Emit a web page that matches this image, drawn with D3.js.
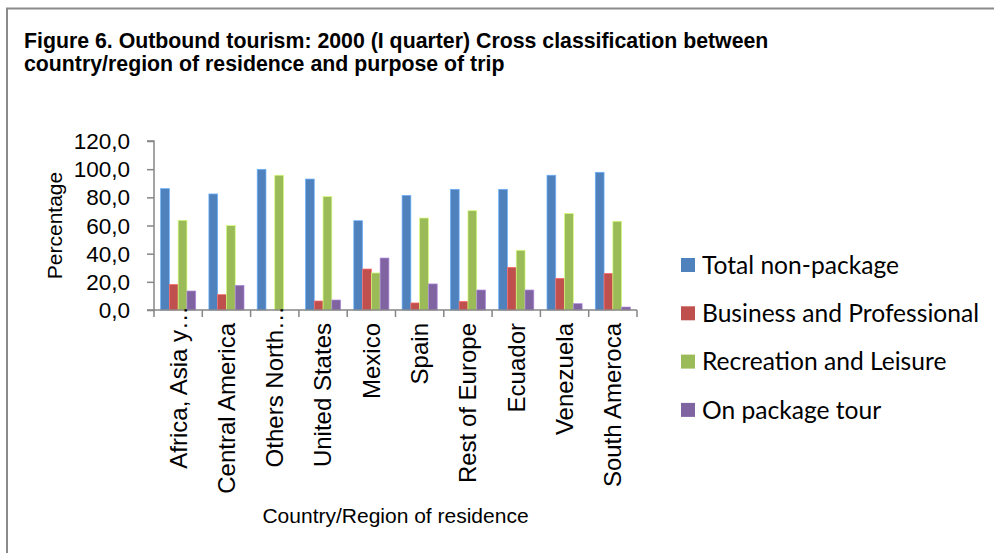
<!DOCTYPE html>
<html lang="en">
<head>
    <meta charset="UTF-8">
    <script src="https://d3js.org/d3.v7.min.js"></script>
    <title>index</title>
    <style>
        body { margin: 0; background: #fff; }
        svg { display: block; }
        .title { font-family: "Liberation Sans", Arial, sans-serif; font-weight: bold; font-size: 21.3px; }
        .axis text { font-family: "Liberation Sans", Arial, sans-serif; fill: #000; }
        .legend text { font-family: Lato, "Open Sans", sans-serif; font-size: 24.6px; }
    </style>
</head>
<body>
    <div id="chart"></div>

    <script>
        // categories and series
        var categories = ['Africa, Asia y\u2026', 'Central America', 'Others North\u2026', 'United States', 'Mexico',
                          'Spain', 'Rest of Europe', 'Ecuador', 'Venezuela', 'South Ameroca'];
        var seriesNames = ['Total non-package', 'Business and Professional', 'Recreation and Leisure', 'On package tour'];
        var totalNonPackage = [86.2, 82.4, 99.9, 93.0, 63.4, 81.4, 85.7, 85.7, 95.7, 97.8];
        var businessProfessional = [18.2, 10.9, 0, 6.4, 29.1, 5.0, 6.1, 30.3, 22.5, 26.0];
        var recreationLeisure = [63.7, 59.9, 95.7, 80.5, 26.3, 65.3, 70.5, 42.4, 68.6, 63.0];
        var onPackageTour = [13.5, 17.5, 0, 7.1, 36.9, 18.5, 14.2, 14.2, 4.5, 2.1];
        var yTicks = [0, 20, 40, 60, 80, 100, 120];

        var colors = ['#4F81BD', '#C0504D', '#9BBB59', '#8064A2'];
        var seriesValues = [totalNonPackage, businessProfessional, recreationLeisure, onPackageTour];

        var width = 994, height = 553;
        var plotLeft = 154, plotRight = 637, plotTop = 141, plotBottom = 310;

        var svg = d3.select('#chart').append('svg')
            .attr('width', width)
            .attr('height', height);

        // chart border
        svg.append('rect')
            .attr('x', 7).attr('y', 8.5)
            .attr('width', 1000).attr('height', 600)
            .attr('fill', 'none')
            .attr('stroke', '#8a8a8a')
            .attr('stroke-width', 2);

        svg.append('text').attr('class', 'title')
            .attr('x', 24).attr('y', 48)
            .text('Figure 6. Outbound tourism: 2000 (I quarter) Cross classification between');
        svg.append('text').attr('class', 'title')
            .attr('x', 24).attr('y', 71)
            .text('country/region of residence and purpose of trip');

        var x0 = d3.scaleBand().domain(categories).range([plotLeft, plotRight]).padding(0);
        var x1 = d3.scaleBand().domain(seriesNames).range([0, x0.bandwidth()])
            .paddingInner(0).paddingOuter(0.75);
        var y = d3.scaleLinear().domain([0, 120]).range([plotBottom, plotTop]);

        // bars
        var groups = svg.selectAll('.cat')
            .data(categories)
            .enter().append('g')
                .attr('class', 'cat')
                .attr('transform', function(d) { return 'translate(' + x0(d) + ',0)'; });

        groups.selectAll('rect')
            .data(function(d, i) {
                return seriesNames.map(function(s, j) { return {s: s, j: j, v: seriesValues[j][i]}; });
            })
            .enter().append('rect')
                .attr('x', function(d) { return x1(d.s); })
                .attr('y', function(d) { return y(d.v); })
                .attr('width', x1.bandwidth())
                .attr('height', function(d) { return plotBottom - y(d.v); })
                .attr('fill', function(d) { return colors[d.j]; })
                .attr('stroke', function(d) { return d.v > 0 ? d3.color(colors[d.j]).brighter(0.9) : 'none'; })
                .attr('stroke-width', 0.7);

        // y axis
        var yAxis = svg.append('g').attr('class', 'axis')
            .attr('transform', 'translate(' + plotLeft + ',0)')
            .call(d3.axisLeft(y).tickValues(yTicks).tickSize(7).tickPadding(17)
                .tickFormat(function(d) { return d3.format('.1f')(d).replace('.', ','); }));
        yAxis.selectAll('text').attr('font-size', 22.5).attr('dy', '0.34em');
        yAxis.select('.domain').attr('stroke', '#868686').attr('stroke-width', 1.5)
            .attr('d', 'M-7,' + plotTop + 'H0V' + plotBottom + 'H-7');
        yAxis.selectAll('.tick line').attr('stroke', '#868686').attr('stroke-width', 1.5);

        // x axis, ticks between categories
        var xAxis = svg.append('g').attr('class', 'axis')
            .attr('transform', 'translate(0,' + plotBottom + ')');
        xAxis.append('line')
            .attr('x1', plotLeft).attr('x2', plotRight)
            .attr('stroke', '#868686').attr('stroke-width', 1.5);
        xAxis.selectAll('.tk')
            .data(categories.concat(['end']))
            .enter().append('line')
                .attr('class', 'tk')
                .attr('x1', function(d, i) { return plotLeft + i * x0.step(); })
                .attr('x2', function(d, i) { return plotLeft + i * x0.step(); })
                .attr('y1', 0).attr('y2', 7)
                .attr('stroke', '#868686').attr('stroke-width', 1.5);
        xAxis.selectAll('.lbl')
            .data(categories)
            .enter().append('text')
                .attr('class', 'lbl')
                .attr('font-size', 24)
                .attr('text-anchor', 'end')
                .attr('transform', function(d) {
                    var off = d.slice(-1) === '\u2026' ? -4 : 13;
                    return 'translate(' + (x0(d) + x0.bandwidth() / 2) + ',' + off + ') rotate(-90)';
                })
                .attr('dy', '0.35em')
                .text(function(d) { return d; });

        svg.append('text')
            .attr('transform', 'translate(61.5,' + ((plotTop + plotBottom) / 2) + ') rotate(-90)')
            .attr('text-anchor', 'middle')
            .attr('font-family', '"Liberation Sans", Arial, sans-serif')
            .attr('font-size', 21)
            .text('Percentage');

        svg.append('text')
            .attr('x', (plotLeft + plotRight) / 2).attr('y', 523)
            .attr('text-anchor', 'middle')
            .attr('font-family', '"Liberation Sans", Arial, sans-serif')
            .attr('font-size', 21)
            .text('Country/Region of residence');

        // legend
        var legend = svg.selectAll('.legend')
            .data(seriesNames)
            .enter().append('g')
                .attr('class', 'legend')
                .attr('transform', function(d, i) { return 'translate(681,' + (265 + i * 48.3) + ')'; });
        legend.append('rect')
            .attr('x', 0).attr('y', -7)
            .attr('width', 14).attr('height', 14)
            .attr('fill', function(d, i) { return colors[i]; });
        legend.append('text')
            .attr('x', 21).attr('dy', '0.36em')
            .text(function(d) { return d; });
    </script>
</body>
</html>
